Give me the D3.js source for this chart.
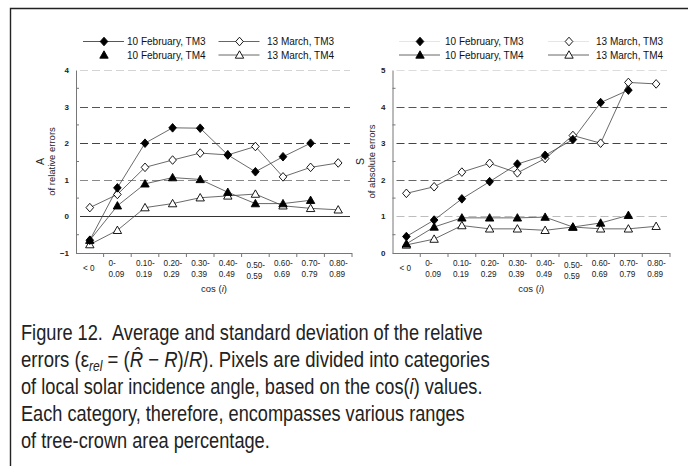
<!DOCTYPE html>
<html>
<head>
<meta charset="utf-8">
<script src="https://cdn.jsdelivr.net/npm/d3@7"></script>
<style>
  html, body { margin: 0; padding: 0; background: #fff; }
  svg { display: block; font-family: "Liberation Sans", Arial, Helvetica, sans-serif; }
</style>
</head>
<body>
<svg id="fig" width="688" height="466"></svg>
<script>
// cos(i) categories (two-line tick labels)
const categories = ["< 0", "0-|0.09", "0.10-|0.19", "0.20-|0.29", "0.30-|0.39",
                    "0.40-|0.49", "0.50-|0.59", "0.60-|0.69", "0.70-|0.79", "0.80-|0.89"];

// Panel A: relative errors
const relFebTM3 = [-0.65, 0.78, 2.00, 2.42, 2.41, 1.68, 1.22, 1.63, 2.00, null];
const relMarTM3 = [0.24, 0.60, 1.34, 1.54, 1.73, 1.68, 1.91, 1.08, 1.34, 1.46];
const relFebTM4 = [-0.65, 0.29, 0.89, 1.06, 1.01, 0.66, 0.35, 0.35, 0.44, null];
const relMarTM4 = [-0.77, -0.38, 0.24, 0.35, 0.51, 0.56, 0.61, 0.29, 0.22, 0.18];

// Panel S: absolute errors
const absFebTM3 = [0.45, 0.90, 1.48, 1.95, 2.43, 2.67, 3.10, 4.11, 4.45, null];
const absMarTM3 = [1.63, 1.81, 2.21, 2.45, 2.19, 2.58, 3.21, 3.00, 4.66, 4.62];
const absFebTM4 = [0.25, 0.71, 0.96, 0.96, 0.96, 0.98, 0.71, 0.82, 1.03, null];
const absMarTM4 = [0.22, 0.38, 0.75, 0.66, 0.66, 0.62, 0.71, 0.66, 0.66, 0.73];

const relTicks = [-1, 0, 1, 2, 3, 4];
const absTicks = [0, 1, 2, 3, 4, 5];

const seriesNames = ["10 February, TM3", "13 March, TM3", "10 February, TM4", "13 March, TM4"];

const svg = d3.select("#fig");

// outer frame (left and top rules)
svg.append("path")
  .attr("d", "M10.5,466 L10.5,8.5 L688,8.5")
  .attr("fill", "none").attr("stroke", "#222").attr("stroke-width", 1.4);

// small diamond / triangle glyphs
const diamondPath = "M0,-4.3L3.8,0L0,4.3L-3.8,0Z";
const trianglePath = "M0,-4.2L4.2,3.2L-4.2,3.2Z";

function marker(g, kind, filled, x, y) {
  g.append("path")
    .attr("d", kind === "diamond" ? diamondPath : trianglePath)
    .attr("transform", `translate(${x},${y})`)
    .attr("fill", filled ? "#000" : "#fff")
    .attr("stroke", "#000").attr("stroke-width", 0.9)
    .attr("stroke-linejoin", "miter");
}

function panel(opt) {
  const g = svg.append("g");
  const x = d3.scaleBand().domain(categories).range(opt.xr).paddingInner(0).paddingOuter(0);
  const y = d3.scaleLinear().domain(opt.yd).range([253, 70]);
  const [x0, x1] = opt.xr;

  // horizontal reference lines
  opt.grid.forEach(gl => {
    g.append("line")
      .attr("x1", x0 + 4).attr("x2", opt.gridEnd)
      .attr("y1", Math.round(y(gl.v)) + 0.5).attr("y2", Math.round(y(gl.v)) + 0.5)
      .attr("stroke", gl.c).attr("stroke-width", gl.w || 1.2)
      .attr("stroke-dasharray", gl.solid ? null : "8,4");
  });

  // y axis
  const yAxis = d3.axisLeft(y).tickValues(opt.yTicks).tickSize(0).tickPadding(7)
    .tickFormat(d3.format("d"));
  const ya = g.append("g").attr("transform", `translate(${x0},0)`).call(yAxis);
  ya.select(".domain").attr("stroke", "#777").attr("stroke-width", 1);
  ya.selectAll("text").attr("font-size", 8).attr("font-weight", "bold").attr("fill", "#222")
    .attr("font-family", "Liberation Sans, Arial, sans-serif");
  // half-unit minor ticks
  d3.range(opt.yd[0] + 0.5, opt.yd[1], 1).forEach(v => {
    g.append("line").attr("x1", x0).attr("x2", x0 + 3)
      .attr("y1", y(v)).attr("y2", y(v)).attr("stroke", "#777");
  });

  // x axis at the bottom with ticks on band edges
  g.append("line").attr("x1", x0).attr("x2", x1).attr("y1", 253.5).attr("y2", 253.5)
    .attr("stroke", "#777").attr("stroke-width", 1);
  categories.forEach((c, i) => {
    const bx = x(c) + x.bandwidth();
    g.append("line").attr("x1", bx).attr("x2", bx).attr("y1", 253).attr("y2", 257)
      .attr("stroke", "#777");
    const parts = c.split("|");
    const cx = x(c) + x.bandwidth() / 2;
    if (parts.length === 1) {
      g.append("text").attr("x", cx - 1).attr("y", 271).attr("text-anchor", "middle")
        .attr("font-size", 8.2).attr("fill", "#222").text(parts[0]);
    } else {
      const lab = g.append("text").attr("font-size", 8.2).attr("fill", "#222");
      const dy = c.startsWith("0.50") ? 2 : 0;
      lab.append("tspan").attr("x", cx - 9).attr("y", 266 + dy).text(parts[0]);
      lab.append("tspan").attr("x", cx - 9).attr("y", 277 + dy).text(parts[1]);
    }
  });

  // axis titles
  g.append("text").attr("x", (x0 + x1) / 2).attr("y", 292).attr("text-anchor", "middle")
    .attr("font-size", 9.5).attr("fill", "#222")
    .call(t => { t.append("tspan").text("cos ("); t.append("tspan").attr("font-style", "italic").text("i"); t.append("tspan").text(")"); });
  const yt = g.append("text").attr("transform", `translate(${opt.ytx},161.5) rotate(-90)`)
    .attr("text-anchor", "middle").attr("font-size", 9.5).attr("fill", "#222");
  yt.append("tspan").attr("x", 0).attr("y", 0).attr("font-size", 10.5).text(opt.ySym);
  yt.append("tspan").attr("x", 0).attr("y", 11).text(opt.yLabel);

  // series lines and markers
  const line = d3.line().defined(d => d.v !== null)
    .x(d => x(d.c) + x.bandwidth() / 2).y(d => y(d.v));
  opt.series.forEach(s => {
    const pts = s.values.map((v, i) => ({ c: categories[i], v }));
    g.append("path").datum(pts).attr("d", line)
      .attr("fill", "none").attr("stroke", "#444").attr("stroke-width", 0.8);
  });
  opt.series.forEach(s => {
    s.values.forEach((v, i) => {
      if (v === null) return;
      marker(g, s.kind, s.filled, x(categories[i]) + x.bandwidth() / 2, y(v));
    });
  });

  // legend
  opt.legend.forEach(l => {
    if (l.lineColor) {
      g.append("line").attr("x1", l.mx - 21).attr("x2", l.mx + 20)
        .attr("y1", l.y).attr("y2", l.y).attr("stroke", l.lineColor).attr("stroke-width", 0.9);
    }
    marker(g, l.kind, l.filled, l.mx, l.y);
    g.append("text").attr("x", l.tx).attr("y", l.y + 3.5).attr("font-size", 10)
      .attr("fill", "#111").text(l.name);
  });
}

panel({
  xr: [76, 352], gridEnd: 350, yd: [-1, 4], yTicks: relTicks, ytx: 44,
  ySym: "A", yLabel: "of relative errors",
  grid: [
    { v: 4, c: "#d4d4d4" }, { v: 3, c: "#555" }, { v: 2, c: "#444" },
    { v: 1, c: "#8a8a8a" }, { v: 0, c: "#333", solid: true, w: 1.1 }
  ],
  series: [
    { values: relMarTM4, kind: "triangle", filled: false },
    { values: relFebTM4, kind: "triangle", filled: true },
    { values: relMarTM3, kind: "diamond", filled: false },
    { values: relFebTM3, kind: "diamond", filled: true }
  ],
  legend: [
    { name: seriesNames[0], kind: "diamond", filled: true, mx: 104, tx: 127, y: 41.5, lineColor: "#444" },
    { name: seriesNames[2], kind: "triangle", filled: true, mx: 104, tx: 127, y: 55, lineColor: null },
    { name: seriesNames[1], kind: "diamond", filled: false, mx: 239.5, tx: 267, y: 41.5, lineColor: "#555" },
    { name: seriesNames[3], kind: "triangle", filled: false, mx: 239.5, tx: 267, y: 55, lineColor: "#555" }
  ]
});

panel({
  xr: [392.5, 670], gridEnd: 667, yd: [0, 5], yTicks: absTicks, ytx: 364,
  ySym: "S", yLabel: "of absolute errors",
  grid: [
    { v: 5, c: "#dcdcdc" }, { v: 4, c: "#555" }, { v: 3, c: "#444" },
    { v: 2, c: "#666" }, { v: 1, c: "#bdbdbd" }
  ],
  series: [
    { values: absMarTM4, kind: "triangle", filled: false },
    { values: absFebTM4, kind: "triangle", filled: true },
    { values: absMarTM3, kind: "diamond", filled: false },
    { values: absFebTM3, kind: "diamond", filled: true }
  ],
  legend: [
    { name: seriesNames[0], kind: "diamond", filled: true, mx: 420, tx: 445, y: 41.5, lineColor: "#e2e2e2" },
    { name: seriesNames[2], kind: "triangle", filled: true, mx: 420, tx: 445, y: 55, lineColor: "#555" },
    { name: seriesNames[1], kind: "diamond", filled: false, mx: 569, tx: 596, y: 41.5, lineColor: "#e2e2e2" },
    { name: seriesNames[3], kind: "triangle", filled: false, mx: 569, tx: 596, y: 55, lineColor: "#555" }
  ]
});

// caption: each line is squeezed horizontally to its set width
const cap = svg.append("g").attr("font-size", 21.5).attr("fill", "#222")
  .attr("font-family", "'Liberation Sans Narrow', 'Liberation Sans', Arial, sans-serif");
function capLine(y, w, build) {
  const holder = cap.append("g");
  const t = holder.append("text").attr("x", 0).attr("y", 0);
  build(t);
  const natural = t.node().getComputedTextLength();
  holder.attr("transform", `translate(21,${y}) scale(${w / natural},1)`);
}
capLine(340, 462, t => t.append("tspan").text("Figure 12.\u00a0 Average and standard deviation of the relative"));
capLine(367, 469, t => {
  t.append("tspan").text("errors (\u03b5");
  t.append("tspan").attr("font-style", "italic").attr("font-size", 14).attr("dy", 4).text("rel");
  t.append("tspan").attr("dy", -4).text(" = (");
  t.append("tspan").attr("font-style", "italic").text("R\u0302");
  t.append("tspan").text(" \u2212 ");
  t.append("tspan").attr("font-style", "italic").text("R");
  t.append("tspan").text(")/");
  t.append("tspan").attr("font-style", "italic").text("R");
  t.append("tspan").text("). Pixels are divided into categories");
});
capLine(394, 462, t => {
  t.append("tspan").text("of local solar incidence angle, based on the cos(");
  t.append("tspan").attr("font-style", "italic").text("i");
  t.append("tspan").text(") values.");
});
capLine(421, 444, t => t.append("tspan").text("Each category, therefore, encompasses various ranges"));
capLine(448, 249, t => t.append("tspan").text("of tree-crown area percentage."));
</script>
</body>
</html>
